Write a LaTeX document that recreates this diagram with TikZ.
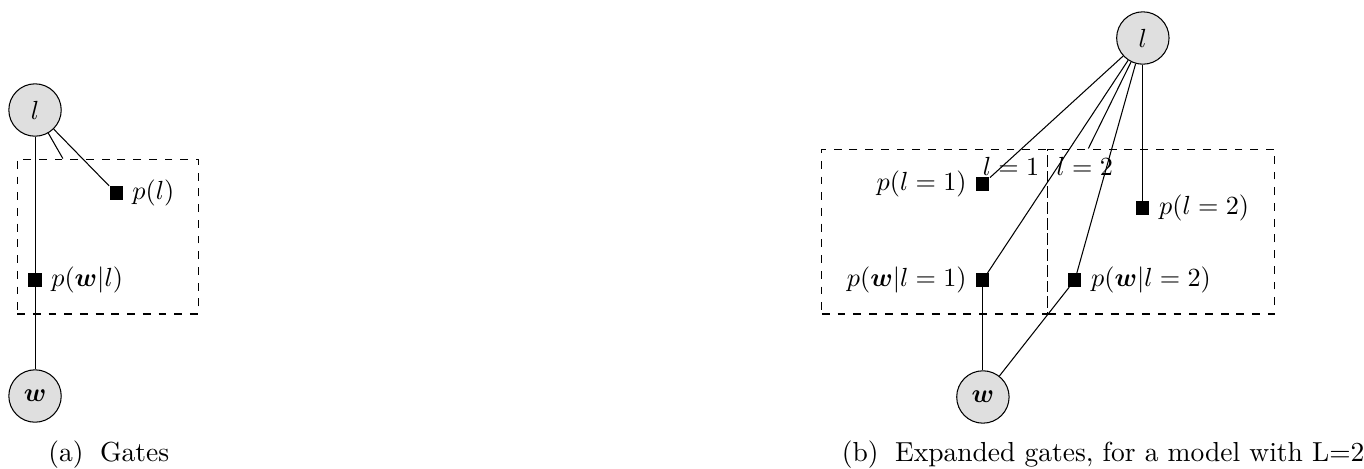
\documentclass[tikz,border=0pt]{standalone}
\usepackage{amsmath}
\usepackage{amsfonts}
\usepackage{tikz}
\usetikzlibrary{positioning}
\usepackage{xcolor}

\begin{document}
\begin{tikzpicture}[on grid,
    latent/.style={circle, draw, fill=gray!25, minimum size=20pt, inner sep=0pt},
    factor/.style={rectangle, fill=black, minimum size=5pt, inner sep=0pt},
    gatebox/.style={rectangle, draw, dashed, inner sep=0pt},
    subcap/.style={font=\fontsize{10.5pt}{12.6pt}\selectfont}]
    \useasboundingbox (0,0) rectangle (18.30,-6.29);

    % (a) gates
    \node[latent] (l) at (0.470,-1.476) {$l$};
    \node[factor, label={right:$p(l)$}] (fl) [below right=1.113cm and 1.087cm of l] {};
    \node[factor, label={right:$p(\boldsymbol{w}|l)$}] (fwl) [below=2.281cm of l] {};
    \node[latent] (w) [below=3.837cm of l] {$\boldsymbol{w}$};
    \node[gatebox, minimum width=2.428cm, minimum height=2.079cm] (ga) [below right=1.697cm and 0.973cm of l] {};
    \node[subcap] (capa) at (1.46,-6.10) {(a)\hspace{0.6em}Gates};

    \path[draw]
        (l) edge (fl)
            edge (ga)
            edge (fwl)
        (fwl) edge (w);

    % (b) expanded gates
    \node[latent] (L) at (15.333,-0.510) {$l$};
    \node[factor, label={left:$p(l=1)$}] (fl1) [below left=1.959cm and 2.146cm of L] {};
    \node[factor, label={left:$p(\boldsymbol{w}|l=1)$}] (fwl1) [below left=3.246cm and 2.146cm of L] {};
    \node[factor, label={right:$p(\boldsymbol{w}|l=2)$}] (fwl2) [below left=3.246cm and 0.912cm of L] {};
    \node[factor, label={right:$p(l=2)$}] (fl2) [below=2.281cm of L] {};
    \node[latent] (W) [below left=4.816cm and 2.146cm of L] {$\boldsymbol{w}$};
    \node[gatebox, minimum width=3.032cm, minimum height=2.213cm] (gb1) [below left=2.596cm and 2.790cm of L] {};
    \node[gatebox, minimum width=3.045cm, minimum height=2.213cm] (gb2) [below right=2.596cm and 0.248cm of L] {};
    \node[anchor=north east] (lab1) at (gb1.north east) {$l = 1$};
    \node[anchor=north west] (lab2) at (gb2.north west) {$l = 2$};
    \coordinate (gtop) at ([xshift=0.55cm]gb2.north west);
    \node[subcap] (capb) at (14.80,-6.10) {(b)\hspace{0.6em}Expanded gates, for a model with L=2};

    \path[draw]
        (L) edge (fl1)
            edge (fwl1)
            edge (gtop)
            edge (fwl2)
            edge (fl2)
        (fwl1) edge (W)
        (fwl2) edge (W);
\end{tikzpicture}
\end{document}
